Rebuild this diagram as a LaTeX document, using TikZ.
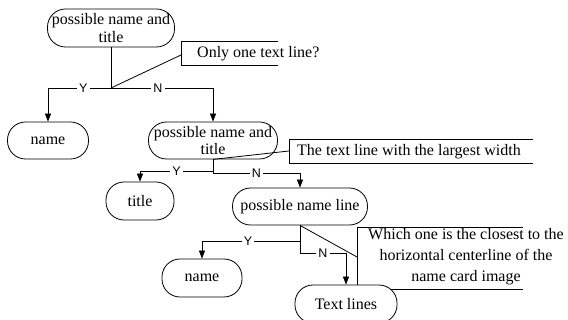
\documentclass[tikz,border=0pt]{standalone}
\usepackage{fontspec}
\setmainfont{Liberation Serif}
\newfontfamily\ynfont{Liberation Sans}
\usetikzlibrary{arrows.meta}
\begin{document}
\begin{tikzpicture}[x=1pt,y=-1pt,
  stad/.style={draw, fill=white, rounded corners=18pt, inner sep=0pt, align=center,
    font=\fontsize{16}{17.5}\selectfont, line width=0.8pt},
  conn/.style={line width=0.8pt},
  arr/.style={conn,-{Triangle[width=6pt,length=8pt]}},
  lbl/.style={fill=white, inner xsep=2.2pt, inner ysep=1pt, font=\ynfont\fontsize{12.5}{13}\selectfont},
  ctext/.style={inner sep=0pt, font=\fontsize{16}{21}\selectfont, align=center},
]
\useasboundingbox (0,0) rectangle (568,320);
% coordinates
\coordinate (j1) at (111,88);
\coordinate (c1tl) at (181,41);
\coordinate (c1tr) at (278,41);
\coordinate (c1bl) at (181,65);
\coordinate (c1br) at (278,65);
\coordinate (c1p) at (181,55);
\coordinate (j2y) at (213,171);
\coordinate (j2n) at (213,173);
\coordinate (c2tl) at (289,139);
\coordinate (c2tr) at (533,139);
\coordinate (c2bl) at (289,163);
\coordinate (c2br) at (533,163);
\coordinate (c2p) at (289,151);
\coordinate (j3y) at (300,241);
\coordinate (j3n) at (300,253);
\coordinate (c3tl) at (357,227);
\coordinate (c3tr) at (523,227);
\coordinate (c3bl) at (357,289);
\coordinate (c3br) at (523,289);
\coordinate (c3p) at (357,257);
% callout boxes
\draw[conn] (c1tr) -- (c1tl) -- (c1bl) -- (c1br);
\draw[conn] (c2tr) -- (c2tl) -- (c2bl) -- (c2br);
\draw[conn] (c3tr) -- (c3tl) -- (c3bl) -- (c3br);
\node[inner sep=0pt, anchor=base west, font=\fontsize{16}{17.5}\selectfont] (t1) at (197,57.5) {Only one text line?};
\node[inner sep=0pt, anchor=base west, font=\fontsize{16}{17.5}\selectfont] (t2) at (297,156) {The text line with the largest width};
\node[ctext] (t3) at (466,257) {Which one is the closest to the\\horizontal centerline of the\\name card image};
% nodes
\node[stad, minimum width=127pt, minimum height=38pt] (n1) at (111,28) {possible name and\\title};
\node[stad, minimum width=81pt, minimum height=37pt] (name1) at (48,140.5) {name};
\node[stad, minimum width=129pt, minimum height=37pt] (n2) at (213,140.5) {possible name and\\title};
\node[stad, minimum width=68pt, minimum height=38pt] (title) at (140,201) {title};
\node[stad, minimum width=135pt, minimum height=37pt] (pnl) at (300,206.5) {possible name line};
\node[stad, minimum width=80pt, minimum height=38pt] (name2) at (202,278) {name};
\node[stad, minimum width=102pt, minimum height=38pt] (tl) at (346,304) {Text lines};
% connectors
\draw[conn] (n1.south) -- (j1);
\draw[arr] (j1) -| node[lbl, pos=0.22] {Y} (name1.north);
\draw[arr] (j1) -| node[lbl, pos=0.23] {N} (n2.north);
\draw[conn] (j1) -- (c1p);
\draw[conn] (n2.south) -- (j2n);
\draw[arr] (j2y) -| node[lbl, pos=0.25] {Y} (title.north);
\draw[arr] (j2n) -| node[lbl, pos=0.25] {N} (pnl.north);
\draw[conn] (n2.south) -- (c2p);
\draw[conn] (pnl.south) -- (j3n);
\draw[arr] (j3y) -| node[lbl, pos=0.265] {Y} (name2.north);
\draw[arr] (j3n) -| node[lbl, pos=0.25] {N} (tl.north);
\draw[conn] (pnl.south) -- (c3p);
\end{tikzpicture}
\end{document}
